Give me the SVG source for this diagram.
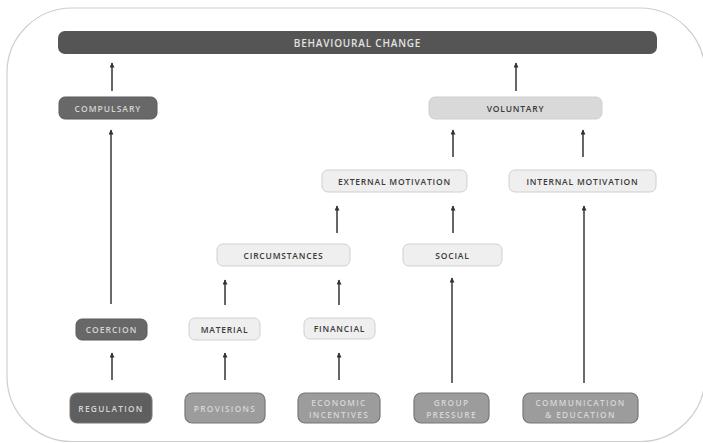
<svg xmlns="http://www.w3.org/2000/svg" width="703" height="443" viewBox="0 0 703 443">
<defs>
<marker id="ah" markerUnits="userSpaceOnUse" markerWidth="6" markerHeight="6" refX="4.5" refY="2.5" orient="auto">
<path d="M0,0 L5,2.5 L0,5 z" fill="#333"/>
</marker>
<style>
text{font-family:"Open Sans","Noto Sans","Liberation Sans",sans-serif;font-weight:600;text-anchor:middle;dominant-baseline:central}
.bar{fill:#555}
.dk{fill:#686868;stroke:#5a5a5a;stroke-width:1}
.reg{fill:#5f5f5f;stroke:#777;stroke-width:1}
.md{fill:#9c9c9c;stroke:#777;stroke-width:1.2}
.vl{fill:#d9d9d9;stroke:#cfcfcf;stroke-width:1}
.lt{fill:#efefef;stroke:#cfcfcf;stroke-width:1}
.tl{fill:#d4d4d4;font-size:8.5px;letter-spacing:1px}
.tb{fill:#e2e2e2;font-size:10px;letter-spacing:0.8px}
.td{fill:#3a3a3a;font-size:8.5px;letter-spacing:0.8px}
.tm{fill:#d6d6d6;font-size:8.3px;letter-spacing:1.3px}
.c{stroke:#333;stroke-width:1.5;fill:none;marker-end:url(#ah)}
.cl{stroke:#5a5a5a;stroke-width:1.8;fill:none;marker-end:url(#ah)}
</style>
</defs>
<rect x="7" y="8" width="698" height="433.5" rx="65" fill="#fff" stroke="#cfcfcf" stroke-width="1.2"/>
<g id="connectors">
<line class="c" x1="112" y1="91" x2="112" y2="63"/>
<line class="c" x1="516" y1="91" x2="516" y2="63"/>
<line class="cl" x1="111" y1="304" x2="111" y2="130"/>
<line class="c" x1="453" y1="157" x2="453" y2="130"/>
<line class="c" x1="583" y1="157" x2="583" y2="130"/>
<line class="c" x1="337" y1="233" x2="337" y2="206"/>
<line class="c" x1="453" y1="233" x2="453" y2="206"/>
<line class="cl" x1="584" y1="383" x2="584" y2="206"/>
<line class="c" x1="225" y1="305" x2="225" y2="280"/>
<line class="c" x1="339" y1="305" x2="339" y2="280"/>
<line class="cl" x1="452" y1="383" x2="452" y2="278"/>
<line class="c" x1="112" y1="380" x2="112" y2="353"/>
<line class="c" x1="225" y1="380" x2="225" y2="353"/>
<line class="c" x1="339" y1="380" x2="339" y2="353"/>
</g>
<g id="behavioural-change"><rect class="bar" x="58" y="31" width="599" height="23" rx="7"/><text class="tb" x="357.5" y="42.5">BEHAVIOURAL CHANGE</text></g>
<g id="compulsary"><rect class="dk" x="59" y="97" width="98" height="22" rx="6"/><text class="tl" x="108" y="108">COMPULSARY</text></g>
<g id="voluntary"><rect class="vl" x="429" y="97" width="173" height="22" rx="6"/><text class="td" x="515.5" y="108">VOLUNTARY</text></g>
<g id="external-motivation"><rect class="lt" x="322" y="170" width="145" height="22" rx="6"/><text class="td" x="394.5" y="181">EXTERNAL MOTIVATION</text></g>
<g id="internal-motivation"><rect class="lt" x="509" y="170" width="147" height="22" rx="6"/><text class="td" x="582.5" y="181">INTERNAL MOTIVATION</text></g>
<g id="circumstances"><rect class="lt" x="217" y="244" width="133" height="22" rx="6"/><text class="td" x="283.5" y="255">CIRCUMSTANCES</text></g>
<g id="social"><rect class="lt" x="403" y="244" width="99" height="22" rx="6"/><text class="td" x="452.5" y="255">SOCIAL</text></g>
<g id="coercion"><rect class="dk" x="76" y="319" width="71" height="21" rx="6"/><text class="tl" x="111.5" y="329.5">COERCION</text></g>
<g id="material"><rect class="lt" x="189" y="318" width="71" height="22" rx="6"/><text class="td" x="224.5" y="329">MATERIAL</text></g>
<g id="financial"><rect class="lt" x="304" y="318" width="71" height="21" rx="6"/><text class="td" x="339.5" y="328.5">FINANCIAL</text></g>
<g id="regulation"><rect class="reg" x="70" y="393" width="82" height="30" rx="7"/><text class="tm" x="111" y="408">REGULATION</text></g>
<g id="provisions"><rect class="md" x="185" y="393" width="80" height="30" rx="7"/><text class="tm" x="225" y="408">PROVISIONS</text></g>
<g id="economic-incentives"><rect class="md" x="298" y="393" width="82" height="30" rx="7"/><text class="tm" x="339" y="402">ECONOMIC</text><text class="tm" x="339" y="414">INCENTIVES</text></g>
<g id="group-pressure"><rect class="md" x="414" y="393" width="75" height="30" rx="7"/><text class="tm" x="451.5" y="402">GROUP</text><text class="tm" x="451.5" y="414">PRESSURE</text></g>
<g id="communication-education"><rect class="md" x="523" y="393" width="115" height="30" rx="7"/><text class="tm" x="580.5" y="402">COMMUNICATION</text><text class="tm" x="580.5" y="414">&amp; EDUCATION</text></g>
</svg>
